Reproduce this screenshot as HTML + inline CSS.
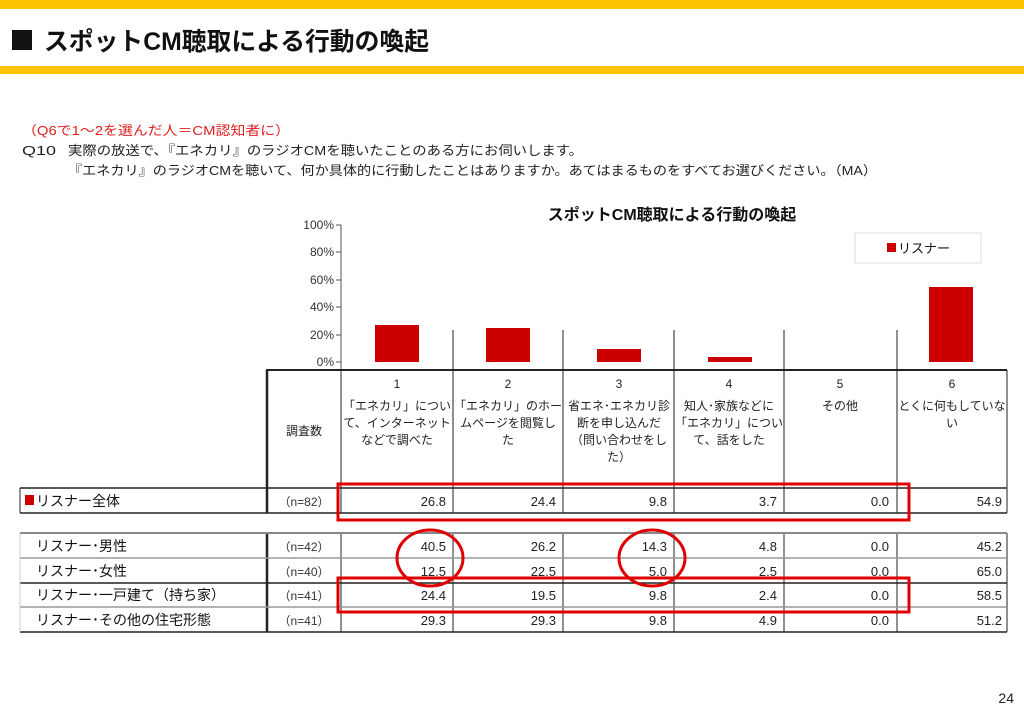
<!DOCTYPE html>
<html><head><meta charset="utf-8"><style>
html,body{margin:0;padding:0;background:#fff;}
svg{display:block;font-family:"Liberation Sans","Noto Sans CJK JP",sans-serif;}
</style></head><body>
<svg width="1024" height="709" viewBox="0 0 1024 709" xmlns="http://www.w3.org/2000/svg">
<rect x="0" y="0" width="1024" height="9" fill="#FDC300"/>
<rect x="0" y="66" width="1024" height="8" fill="#FDC300"/>
<rect x="12" y="30" width="20" height="20" fill="#111"/>
<text x="44" y="50" font-size="25" font-weight="bold" fill="#111" textLength="385" lengthAdjust="spacingAndGlyphs">スポットCM聴取による行動の喚起</text>

<text x="22" y="135" font-size="13" fill="#e02020" textLength="268" lengthAdjust="spacingAndGlyphs">（Q6で1～2を選んだ人＝CM認知者に）</text>
<text x="22" y="155" font-size="13" fill="#222" textLength="34" lengthAdjust="spacingAndGlyphs">Q10</text>
<text x="68" y="155" font-size="13" fill="#222" textLength="515" lengthAdjust="spacingAndGlyphs">実際の放送で、『エネカリ』のラジオCMを聴いたことのある方にお伺いします。</text>
<text x="68" y="175" font-size="13" fill="#222" textLength="809" lengthAdjust="spacingAndGlyphs">『エネカリ』のラジオCMを聴いて、何か具体的に行動したことはありますか。あてはまるものをすべてお選びください。（MA）</text>

<text x="672" y="220" font-size="16" font-weight="bold" text-anchor="middle" fill="#111">スポットCM聴取による行動の喚起</text>
<g font-size="12" fill="#333" text-anchor="end">
<text x="334" y="229">100%</text><text x="334" y="256">80%</text><text x="334" y="284">60%</text>
<text x="334" y="311">40%</text><text x="334" y="339">20%</text><text x="334" y="366">0%</text>
</g>
<line x1="341" y1="225" x2="341" y2="370" stroke="#555"/>
<g stroke="#555"><line x1="336" y1="225" x2="341" y2="225"/><line x1="336" y1="252" x2="341" y2="252"/><line x1="336" y1="280" x2="341" y2="280"/><line x1="336" y1="307" x2="341" y2="307"/><line x1="336" y1="335" x2="341" y2="335"/><line x1="336" y1="362" x2="341" y2="362"/></g>
<rect x="855" y="233" width="126" height="30" fill="#fff" stroke="#ddd"/>
<rect x="887" y="243" width="9" height="9" fill="#cc0000"/>
<text x="898" y="253" font-size="13" fill="#111">リスナー</text>
<g fill="#cc0000">
<rect x="375" y="325" width="44" height="37"/>
<rect x="486" y="328" width="44" height="34"/>
<rect x="597" y="349" width="44" height="13"/>
<rect x="708" y="357" width="44" height="5"/>
<rect x="929" y="287" width="44" height="75"/>
</g>
<g stroke="#222" stroke-width="1">
<line x1="453" y1="330" x2="453" y2="513"/><line x1="453" y1="533" x2="453" y2="632"/>
<line x1="563" y1="330" x2="563" y2="513"/><line x1="563" y1="533" x2="563" y2="632"/>
<line x1="674" y1="330" x2="674" y2="513"/><line x1="674" y1="533" x2="674" y2="632"/>
<line x1="784" y1="330" x2="784" y2="513"/><line x1="784" y1="533" x2="784" y2="632"/>
<line x1="897" y1="330" x2="897" y2="513"/><line x1="897" y1="533" x2="897" y2="632"/>
<line x1="341" y1="370" x2="341" y2="513"/><line x1="341" y1="533" x2="341" y2="632"/>
</g>
<line x1="266" y1="370" x2="1007" y2="370" stroke="#222" stroke-width="2"/>
<line x1="267" y1="370" x2="267" y2="513" stroke="#222" stroke-width="2.5"/>
<line x1="267" y1="533" x2="267" y2="632" stroke="#222" stroke-width="2.5"/>
<line x1="1007" y1="370" x2="1007" y2="513" stroke="#222"/>
<line x1="1007" y1="533" x2="1007" y2="632" stroke="#222"/>
<line x1="20" y1="488" x2="1007" y2="488" stroke="#222" stroke-width="1.5"/>
<line x1="20" y1="513" x2="1007" y2="513" stroke="#222" stroke-width="1.5"/>
<line x1="20" y1="488" x2="20" y2="513" stroke="#222"/>
<line x1="20" y1="533" x2="1007" y2="533" stroke="#888" stroke-width="2"/>
<line x1="20" y1="558" x2="1007" y2="558" stroke="#999" stroke-width="1.5"/>
<line x1="20" y1="583" x2="1007" y2="583" stroke="#222" stroke-width="1.5"/>
<line x1="20" y1="607" x2="1007" y2="607" stroke="#999" stroke-width="1.5"/>
<line x1="20" y1="632" x2="1007" y2="632" stroke="#222" stroke-width="1.5"/>
<line x1="20" y1="533" x2="20" y2="632" stroke="#ccc"/>

<g font-size="12" fill="#222" text-anchor="middle">
<text x="397" y="388">1</text><text x="508" y="388">2</text><text x="619" y="388">3</text><text x="729" y="388">4</text><text x="840" y="388">5</text><text x="952" y="388">6</text>
<text x="304" y="435">調査数</text>
<text x="397" y="410">「エネカリ」につい</text><text x="397" y="427">て、インターネット</text><text x="397" y="444">などで調べた</text>
<text x="508" y="410">「エネカリ」のホー</text><text x="508" y="427">ムページを閲覧し</text><text x="508" y="444">た</text>
<text x="619" y="410">省エネ･エネカリ診</text><text x="619" y="427">断を申し込んだ</text><text x="619" y="444">（問い合わせをし</text><text x="619" y="461">た）</text>
<text x="729" y="410">知人･家族などに</text><text x="729" y="427">「エネカリ」につい</text><text x="729" y="444">て、話をした</text>
<text x="840" y="410">その他</text>
<text x="952" y="410">とくに何もしていな</text><text x="952" y="427">い</text>
</g>
<rect x="25" y="495" width="9" height="10" fill="#cc0000"/>
<g font-size="14" fill="#111">
<text x="36" y="506">リスナー全体</text>
<text x="36" y="551">リスナー･男性</text>
<text x="36" y="576">リスナー･女性</text>
<text x="36" y="600">リスナー･一戸建て（持ち家）</text>
<text x="36" y="625">リスナー･その他の住宅形態</text>
</g>
<g font-size="12" fill="#333" text-anchor="middle">
<text x="304" y="506">（n=82）</text><text x="304" y="551">（n=42）</text><text x="304" y="576">（n=40）</text><text x="304" y="600">（n=41）</text><text x="304" y="625">（n=41）</text>
</g>
<g font-size="13" fill="#222" text-anchor="end">
<text x="446" y="506">26.8</text><text x="556" y="506">24.4</text><text x="667" y="506">9.8</text><text x="777" y="506">3.7</text><text x="889" y="506">0.0</text><text x="1002" y="506">54.9</text>
<text x="446" y="551">40.5</text><text x="556" y="551">26.2</text><text x="667" y="551">14.3</text><text x="777" y="551">4.8</text><text x="889" y="551">0.0</text><text x="1002" y="551">45.2</text>
<text x="446" y="576">12.5</text><text x="556" y="576">22.5</text><text x="667" y="576">5.0</text><text x="777" y="576">2.5</text><text x="889" y="576">0.0</text><text x="1002" y="576">65.0</text>
<text x="446" y="600">24.4</text><text x="556" y="600">19.5</text><text x="667" y="600">9.8</text><text x="777" y="600">2.4</text><text x="889" y="600">0.0</text><text x="1002" y="600">58.5</text>
<text x="446" y="625">29.3</text><text x="556" y="625">29.3</text><text x="667" y="625">9.8</text><text x="777" y="625">4.9</text><text x="889" y="625">0.0</text><text x="1002" y="625">51.2</text>
</g>
<g fill="none" stroke="#e00000" stroke-width="3">
<rect x="338" y="484" width="571" height="36"/>
<rect x="338" y="578" width="571" height="34"/>
<ellipse cx="430" cy="558" rx="33" ry="28"/>
<ellipse cx="652" cy="558" rx="33" ry="28"/>
</g>
<text x="1014" y="703" font-size="14" fill="#222" text-anchor="end">24</text>
</svg>
</body></html>
